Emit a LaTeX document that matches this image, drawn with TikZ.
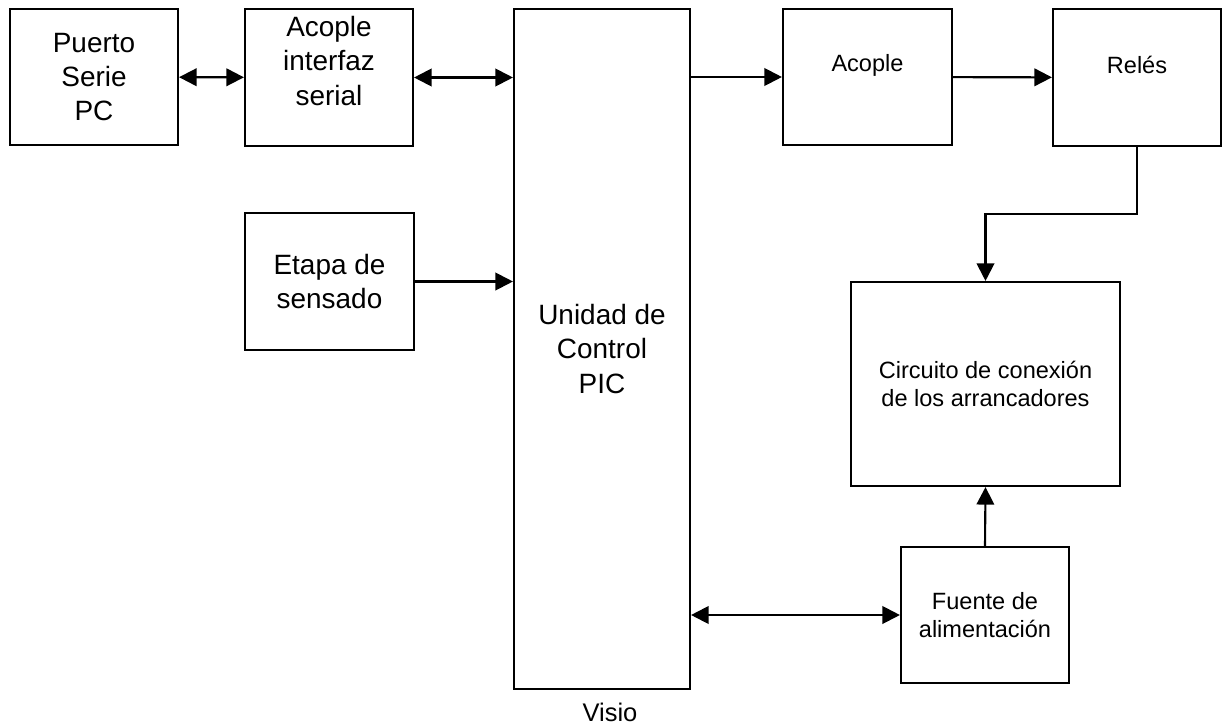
\documentclass[tikz,border=0pt]{standalone}
\usepackage{fontspec}
\setmainfont{Liberation Sans}
\usetikzlibrary{arrows.meta}
\begin{document}
\begin{tikzpicture}[
  blk/.style={draw,line width=1.2pt,inner sep=0pt},
  big/.style={align=center,font=\fontsize{15.9}{19.5}\selectfont},
  sml/.style={align=center,font=\fontsize{13.4}{16.3}\selectfont},
  arr/.style={line width=1.2pt,-{Triangle[length=3.5mm,width=3.5mm]}},
  dbl/.style={line width=1.2pt,{Triangle[length=3.5mm,width=3.5mm]}-{Triangle[length=3.5mm,width=3.5mm]}}]
\useasboundingbox (0,0) rectangle (24.5,-14.52);
\node[blk,big,minimum width=3.36cm,minimum height=2.72cm] (puerto) at (1.88,-1.54) {Puerto\\Serie\\PC};
\node[blk,minimum width=3.36cm,minimum height=2.74cm] (serial) at (6.58,-1.55) {};
\node[big] (serialtxt) at (6.58,-1.22) {Acople\\interfaz\\serial};
\node[blk,big,minimum width=3.38cm,minimum height=2.74cm] (sensado) at (6.59,-5.63) {Etapa de\\sensado};
\node[blk,big,minimum width=3.52cm,minimum height=13.6cm] (pic) at (12.04,-6.98) {Unidad de\\Control\\PIC};
\node[blk,minimum width=3.38cm,minimum height=2.72cm] (acople) at (17.35,-1.54) {};
\node[sml] (acopletxt) at (17.35,-1.30) {Acople};
\node[blk,minimum width=3.36cm,minimum height=2.74cm] (reles) at (22.74,-1.55) {};
\node[sml] (relestxt) at (22.74,-1.30) {Relés};
\node[blk,sml,minimum width=5.38cm,minimum height=4.08cm] (circ) at (19.71,-7.68) {Circuito de conexión\\de los arrancadores};
\node[blk,sml,minimum width=3.36cm,minimum height=2.72cm] (fuente) at (19.70,-12.30) {Fuente de\\alimentación};
\node[font=\fontsize{14.5}{17}\selectfont] (visio) at (12.2,-14.24) {Visio};
\draw[dbl] (puerto) -- (serial);
\draw[dbl] (serial.east) -- (serial.east -| pic.west);
\draw[arr] (acople.west -| pic.east) -- (acople.west);
\draw[arr] (acople) -- (reles);
\draw[arr] (reles.south) -- ++(0,-1.34) -| (circ.north);
\draw[arr] (sensado.east) -- (sensado.east -| pic.west);
\draw[arr] (fuente.north) -- (circ.south);
\draw[dbl] (fuente.west -| pic.east) -- (fuente.west);
\end{tikzpicture}
\end{document}
